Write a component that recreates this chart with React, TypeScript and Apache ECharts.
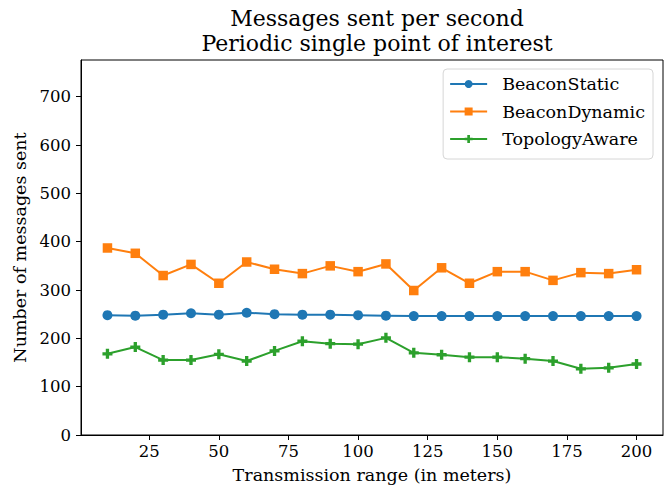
import React, { useEffect, useRef } from "react";
import * as echarts from "echarts";

const ranges = [10, 20, 30, 40, 50, 60, 70, 80, 90, 100, 110, 120, 130, 140, 150, 160, 170, 180, 190, 200];
const beaconStatic = [248, 247, 249, 252, 249, 253, 250, 249, 249, 248, 247, 246, 246, 246, 246, 246, 246, 246, 246, 246];
const beaconDynamic = [387, 376, 330, 353, 314, 358, 343, 334, 350, 338, 354, 299, 346, 314, 338, 338, 320, 336, 334, 342];
const topologyAware = [168, 182, 155, 155, 167, 153, 174, 194, 189, 188, 201, 170, 166, 161, 161, 158, 153, 137, 139, 147];
const xTicks = [25, 50, 75, 100, 125, 150, 175, 200];
const yTicks = [0, 100, 200, 300, 400, 500, 600, 700];

const FONT = "DejaVu Serif";
const PLUS = "path://M2,0H4V2H6V4H4V6H2V4H0V2H2Z";

export default function App() {
  const ref = useRef<HTMLDivElement>(null);
  useEffect(() => {
    const chart = echarts.init(ref.current!, null, { renderer: "svg" });
    const mk = (arr: number[]) => ranges.map((x, i) => [x, arr[i]]);
    chart.setOption({
      animation: false,
      textStyle: { fontFamily: FONT },
      title: {
        text: "Messages sent per second\nPeriodic single point of interest",
        left: 372,
        top: 1,
        textAlign: "center",
        textStyle: { fontFamily: FONT, fontSize: 22, fontWeight: "normal", color: "#000", lineHeight: 25 },
      },
      legend: {
        orient: "vertical",
        right: 11,
        top: 69,
        padding: [5, 8, 10, 6],
        itemGap: 7.5,
        itemWidth: 37,
        itemHeight: 10,
        borderColor: "#d6d6d6",
        borderWidth: 1,
        borderRadius: 4,
        backgroundColor: "rgba(255,255,255,0.8)",
        textStyle: { fontFamily: FONT, fontSize: 17.5, color: "#000", padding: [0, 0, 0, 10], lineHeight: 20 },
        data: ["BeaconStatic", "BeaconDynamic", "TopologyAware"],
      },
      grid: { left: 81, right: 1, top: 60, bottom: 53, show: true, borderColor: "#000", borderWidth: 1, backgroundColor: "transparent" },
      xAxis: {
        type: "value",
        min: 0.5,
        max: 209.5,
        name: "Transmission range (in meters)",
        nameLocation: "middle",
        nameGap: 31,
        nameTextStyle: { fontFamily: FONT, fontSize: 17.5, color: "#000" },
        splitLine: { show: false },
        axisLine: { show: true, onZero: false, lineStyle: { color: "#000" } },
        axisTick: { show: true, length: 5, lineStyle: { color: "#000" }, customValues: xTicks },
        axisLabel: { fontFamily: FONT, fontSize: 16.5, color: "#000", margin: 8, customValues: xTicks },
      },
      yAxis: {
        type: "value",
        min: 0,
        max: 776,
        name: "Number of messages sent",
        nameLocation: "middle",
        nameGap: 52,
        nameTextStyle: { fontFamily: FONT, fontSize: 17.5, color: "#000" },
        splitLine: { show: false },
        axisLine: { show: true, lineStyle: { color: "#000" } },
        axisTick: { show: true, length: 5, lineStyle: { color: "#000" }, customValues: yTicks },
        axisLabel: { fontFamily: FONT, fontSize: 16.5, color: "#000", margin: 10, customValues: yTicks },
      },
      series: [
        {
          name: "BeaconStatic",
          type: "line",
          data: mk(beaconStatic),
          color: "#1f77b4",
          symbol: "circle",
          symbolSize: 10,
          lineStyle: { width: 2 },
          itemStyle: { color: "#1f77b4" },
        },
        {
          name: "BeaconDynamic",
          type: "line",
          data: mk(beaconDynamic),
          color: "#ff7f0e",
          symbol: "rect",
          symbolSize: 9.5,
          lineStyle: { width: 2 },
          itemStyle: { color: "#ff7f0e" },
        },
        {
          name: "TopologyAware",
          type: "line",
          data: mk(topologyAware),
          color: "#2ca02c",
          symbol: PLUS,
          symbolSize: 10,
          lineStyle: { width: 2 },
          itemStyle: { color: "#2ca02c" },
        },
      ],
    });
    return () => chart.dispose();
  }, []);
  return <div ref={ref} style={{ position: "absolute", left: 0, top: 0, width: 664, height: 489 }} />;
}
